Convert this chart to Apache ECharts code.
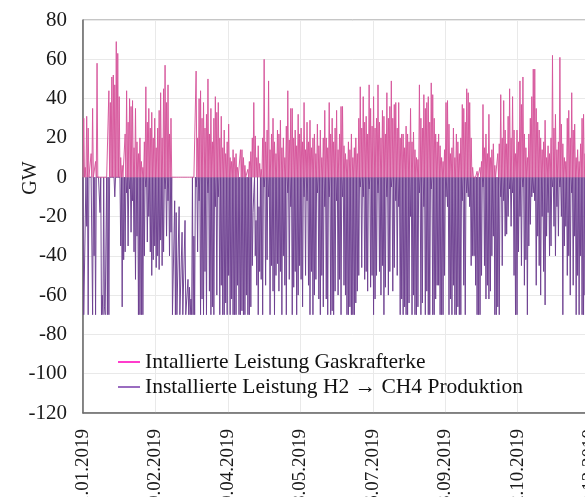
<!DOCTYPE html>
<html>
<head>
<meta charset="utf-8">
<script src="https://cdn.jsdelivr.net/npm/echarts@6/dist/echarts.min.js"></script>
<style>
  html, body { margin: 0; padding: 0; overflow: hidden; background: #fff; }
  /* the plot runs past the right edge of the window, as in the source image */
  #chart { width: 660px; height: 560px; }
</style>
</head>
<body>
<div id="chart"></div>
<script>
// daily values (GW), one entry per day of 2019
// gas plant: highest value of the day, and the level it falls back to
const gasPeak = [
  30,5,31,25,0,12,35,0,8,58,
  0,0,0,0,0,0,0,44,38,51,
  52,47,69,63,41,10,6,0,22,44,
  28,40,36,39,15,35,18,12,20,8,
  5,18,46,28,35,25,33,20,30,15,
  25,34,43,20,45,57,38,47,22,30,
  0,0,0,0,0,0,0,0,0,0,
  0,0,0,0,0,0,54,20,40,44,
  30,38,25,32,50,22,35,18,30,41,
  33,38,20,31,15,24,12,18,27,10,
  8,14,10,12,5,0,14,14,10,6,
  0,4,8,13,20,38,21,10,16,7,
  4,20,60,18,24,49,14,22,30,18,
  12,24,22,29,15,20,10,26,44,19,
  35,35,20,24,16,32,22,25,18,38,
  14,28,18,29,15,20,22,12,27,16,
  24,10,20,34,20,15,38,22,30,18,
  25,34,14,22,36,36,16,12,9,18,
  14,22,10,15,20,12,30,46,25,41,
  28,31,22,47,35,26,41,25,30,47,
  28,20,34,31,22,43,30,36,49,30,
  37,38,25,38,20,22,22,15,26,22,
  18,35,18,23,14,10,9,47,30,25,
  42,35,38,41,28,48,42,30,22,18,
  22,16,10,8,14,38,39,27,12,15,
  25,10,22,18,12,20,37,35,28,45,
  43,38,20,5,0,0,3,0,5,8,
  37,15,22,12,32,10,14,17,6,0,
  12,17,42,20,39,24,17,31,45,20,
  41,24,12,24,18,49,37,51,22,15,
  10,22,30,41,55,55,35,28,24,20,
  14,18,29,10,16,12,20,62,25,32,
  14,18,61,27,17,10,8,30,34,20,
  43,24,27,10,14,8,17,30,32,12,
  20,35,14,28,40,22,10,18,33,25,
  15,30,45,20,12,26,38,16,22,30,
  18,10,24,35,20
];
const gasBase = [
  0,0,0,0,0,0,0,0,0,0, 0,0,0,0,0,0,0,0,0,0, 0,0,0,0,0,0,0,0,0,0,
  0,0,0,0,0,0,0,0,0,0, 0,0,0,0,0,0,0,0,0,0, 0,0,0,0,0,0,0,0,0,0,
  0,0,0,0,0,0,0,0,0,0, 0,0,0,0,0,0,0,0,0,0, 0,0,0,0,0,0,0,0,0,0,
  0,0,0,0,0,0,0,0,0,0, 0,0,0,0,0,0,0,0,0,0, 0,0,0,0,0,0,0,0,0,0,
  0,0,0,0,0,0,0,0,0,0, 0,0,0,0,0,0,0,0,0,0, 0,0,0,0,0,0,0,0,0,0,
  0,0,0,0,0,0,0,0,0,0, 0,0,0,0,0,0,0,0,0,0, 0,0,0,0,0,0,0,0,0,0,
  0,0,0,0,0,0,0,0,0,0, 0,0,0,0,0,0,0,0,0,0, 0,0,0,0,0,0,0,0,0,0,
  0,0,0,0,0,0,0,0,0,0, 0,0,0,0,0,0,0,0,0,0, 0,0,0,0,0,0,0,0,0,0,
  0,0,0,0,0,0,0,0,0,0, 0,0,0,0,0,0,0,0,0,0, 0,0,0,0,0,0,0,0,0,0,
  0,0,0,0,0,0,0,0,0,0, 0,0,0,0,0,0,0,0,0,0, 0,0,0,0,0,0,0,0,0,0,
  0,0,0,0,0,0,0,0,0,0, 0,0,0,0,0,0,0,0,0,0, 0,0,0,0,0,0,0,0,0,0,
  0,0,0,0,0,0,0,0,0,0, 0,0,0,0,0,0,0,0,0,0, 0,0,0,0,0,0,0,0,0,0,
  0,0,0,0,0
];

// H2 -> CH4 production: deepest value of the day, and the level it comes back to
const h2Peak = [
  -70,-70,-25,-70,0,0,-70,-40,-70,0,
  0,-18,-70,-70,-66,-70,-70,-70,0,0,
  0,-10,0,0,0,-35,-66,-42,-38,-8,
  -35,-6,-28,-12,-38,-52,-30,-70,-70,-70,
  -70,-40,-5,-33,-20,-38,-50,-42,-35,-46,
  -40,-47,-32,-45,-38,-6,-30,-12,-40,-28,
  -70,-70,-70,-70,-70,-70,-70,-70,-70,-70,
  -70,-70,-70,-70,-70,-70,-5,-38,-12,-70,
  -62,-70,-48,-70,-8,-58,-70,-66,-70,-15,
  -60,-10,-70,-55,-70,-70,-64,-70,-50,-70,
  -62,-70,-70,-70,-55,-70,-70,-68,-70,-70,
  -60,-70,-70,-66,-45,-8,-40,-55,-70,-48,
  -52,-70,-5,-55,-42,-10,-70,-45,-58,-70,
  -50,-44,-58,-48,-70,-40,-55,-70,-8,-52,
  -15,-70,-56,-48,-70,-60,-45,-52,-66,-10,
  -50,-12,-55,-70,-48,-70,-60,-52,-8,-62,
  -70,-50,-66,-15,-62,-70,-10,-70,-68,-70,
  -58,-12,-60,-52,-70,-10,-55,-60,-70,-70,
  -66,-70,-70,-70,-64,-58,-50,-5,-46,-10,
  -52,-48,-58,-6,-56,-50,-70,-62,-50,-8,
  -48,-60,-45,-70,-56,-10,-60,-48,-5,-58,
  -46,-12,-50,-15,-70,-62,-70,-66,-70,-70,
  -64,-20,-70,-60,-70,-70,-66,-8,-70,-64,
  -15,-70,-58,-70,-70,-6,-70,-70,-62,-55,
  -55,-70,-70,-70,-50,-10,-15,-70,-62,-70,
  -55,-70,-70,-66,-70,-70,-12,-55,-70,-8,
  -10,-15,-45,-40,-40,-55,-70,-70,-70,-50,
  -5,-45,-62,-55,-62,-58,-40,-30,-70,-70,
  -66,-70,-10,-45,-12,-30,-29,-20,-6,-25,
  -8,-50,-70,-70,-38,-20,-45,-5,-55,-42,
  -70,-35,-24,-10,-8,-12,-55,-30,-45,-60,
  -20,-48,-65,-30,-18,-40,-35,-5,-25,-40,
  -15,-30,-5,-20,-70,-35,-25,-50,-40,-60,
  -8,-55,-30,-70,-50,-70,-40,-70,-70,-60,
  -70,-45,-70,-55,-30,-70,-62,-40,-70,-50,
  -70,-35,-60,-70,-45,-70,-55,-40,-70,-65,
  -30,-70,-50,-70,-60
];
const h2Base = [
  0,-70,0,0,0,0,0,0,0,0,
  0,0,0,-60,0,-70,0,0,0,0,
  0,0,0,0,0,0,0,0,0,0,
  0,0,0,0,0,0,0,0,0,0,
  0,0,0,0,0,0,0,0,0,0,
  0,0,0,0,0,0,0,0,0,0,
  0,-70,-12,-18,-70,-15,-70,-28,-70,-22,
  -70,-52,-56,-62,0,-30,0,0,0,0,
  0,0,0,0,0,0,0,0,0,0,
  0,0,0,0,0,0,0,0,0,0,
  0,0,0,0,0,0,0,0,0,0,
  0,0,0,0,0,-18,0,-22,0,-15,
  0,0,0,0,0,0,0,0,0,0,
  0,0,0,0,0,0,0,0,0,0,
  0,0,0,0,0,0,0,0,0,0,
  0,0,0,0,0,0,0,0,0,0,
  0,0,0,0,0,0,0,0,0,0,
  0,0,0,0,0,0,0,0,0,0,
  0,0,0,0,0,0,0,0,0,0,
  0,0,0,0,0,0,0,0,0,0,
  0,0,0,0,0,0,0,0,0,0,
  0,0,0,0,0,0,0,0,0,0,
  0,0,0,0,0,0,0,0,0,0,
  0,0,0,0,0,0,0,0,0,0,
  0,0,0,0,0,0,0,0,0,0,
  0,0,0,0,0,0,0,0,0,0,
  0,0,0,0,0,0,0,0,0,0,
  0,0,0,0,0,0,0,0,0,0,
  0,0,0,0,0,0,0,0,0,0,
  0,0,0,0,0,0,0,0,0,0,
  0,0,0,0,0,0,0,0,0,0,
  0,0,0,0,0,0,0,0,0,0,
  0,0,0,0,0,0,0,0,0,0,
  0,0,0,0,0,0,0,0,0,0,
  0,0,0,0,0,0,0,0,0,0,
  0,0,0,0,0,0,0,0,0,0,
  0,0,0,0,0
];

const gasName = 'Intallierte Leistung Gaskrafterke';
const h2Name = 'Installierte Leistung H2 \u2192 CH4 Produktion';
const yTicks = { min: -120, max: 80, step: 20 };
const labelEvery = 98; // half-day steps between x labels (49 days)

// half-day categories through 2019, labelled dd.mm.yyyy
const categories = [];
for (let i = 0; i < gasPeak.length * 2; i++) {
  const d = new Date(Date.UTC(2019, 0, 1) + i * 12 * 3600 * 1000);
  const dd = String(d.getUTCDate()).padStart(2, '0');
  const mm = String(d.getUTCMonth() + 1).padStart(2, '0');
  categories.push(dd + '.' + mm + '.' + d.getUTCFullYear());
}

const gasData = [];
const h2Data = [];
gasPeak.forEach((v, i) => {
  gasData.push(gasBase[i], v);
  h2Data.push(h2Base[i], h2Peak[i]);
});

const serif = '"Liberation Serif", "Times New Roman", serif';

const chart = echarts.init(document.getElementById('chart'));
chart.setOption({
  animation: false,
  backgroundColor: '#fff',
  grid: {
    left: 83, top: 20, width: 539, height: 393,
    show: true, borderColor: '#8c8c8c', borderWidth: 1
  },
  legend: {
    orient: 'vertical',
    left: 113, top: 346,
    icon: 'rect', itemWidth: 22, itemHeight: 2, itemGap: 3,
    textStyle: { fontFamily: serif, fontSize: 21.5, color: '#111' },
    data: [
      { name: gasName, itemStyle: { color: '#ff3ccc' } },
      { name: h2Name, itemStyle: { color: '#9a6cc0' } }
    ]
  },
  xAxis: {
    type: 'category',
    data: categories,
    boundaryGap: false,
    axisLine: { onZero: false, lineStyle: { color: '#6a6a6a', width: 1.5 } },
    axisTick: { show: false },
    axisLabel: {
      interval: labelEvery - 1, rotate: 90, margin: 16,
      fontFamily: serif, fontSize: 19, color: '#1a1a1a'
    },
    splitLine: { show: true, interval: labelEvery - 1, lineStyle: { color: '#e9e9e9' } }
  },
  yAxis: {
    type: 'value',
    min: yTicks.min, max: yTicks.max, interval: yTicks.step,
    axisLine: { show: true, lineStyle: { color: '#6a6a6a', width: 1.5 } },
    axisTick: { show: false },
    axisLabel: { margin: 16, fontFamily: serif, fontSize: 21, color: '#1a1a1a' },
    splitLine: { lineStyle: { color: '#e9e9e9' } }
  },
  graphic: [{
    type: 'text', x: 31, y: 178, rotation: Math.PI / 2,
    style: { text: 'GW', font: '20px ' + serif, fill: '#1a1a1a', align: 'center', verticalAlign: 'middle' }
  }],
  series: [
    {
      name: h2Name, type: 'line', data: h2Data,
      showSymbol: false, symbol: 'none',
      lineStyle: { color: '#6e4090', width: 0.95 },
      itemStyle: { color: '#6e4090' }
    },
    {
      name: gasName, type: 'line', data: gasData,
      showSymbol: false, symbol: 'none',
      lineStyle: { color: '#d6559b', width: 0.95 },
      itemStyle: { color: '#d6559b' }
    }
  ]
});
</script>
</body>
</html>
